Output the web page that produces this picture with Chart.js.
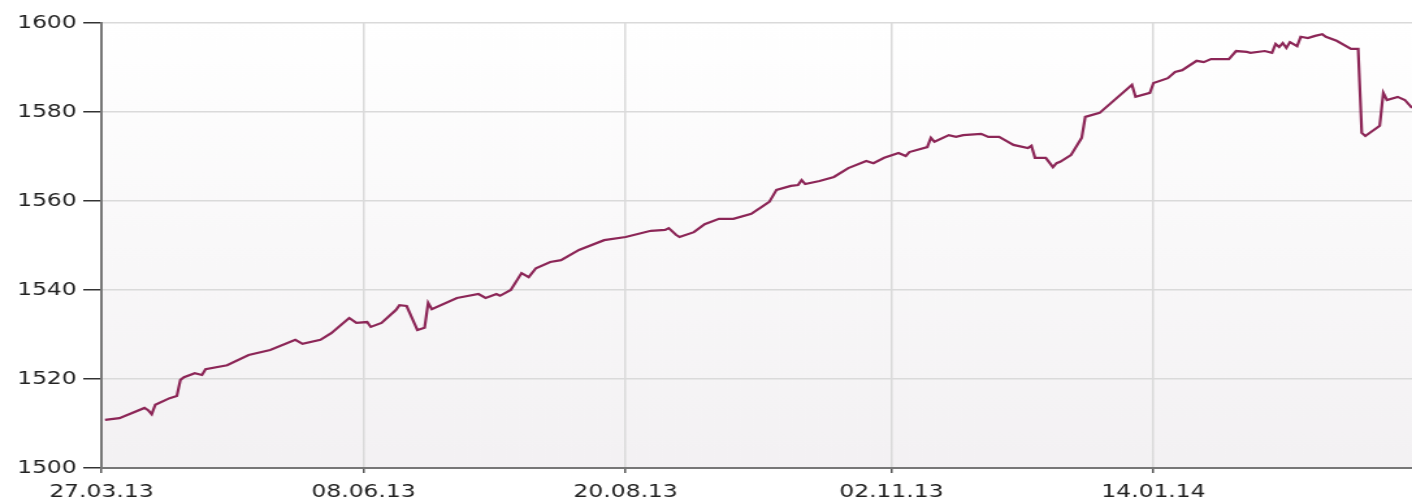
<!DOCTYPE html>
<html>
<head>
<meta charset="utf-8">
<script src="https://cdn.jsdelivr.net/npm/chart.js@4/dist/chart.umd.min.js"></script>
<style>
  html, body { margin: 0; padding: 0; background: #fff; overflow: hidden; }
  /* the original picture is stretched sideways, so draw narrow and widen it */
  #wrap { width: 1086px; height: 500px; transform: scaleX(1.3002); transform-origin: 0 0; }
</style>
</head>
<body>
<div id="wrap"><canvas id="chart-price" width="1086" height="500"></canvas></div>
<script>
// days since 27.03.13
const days = [1, 5, 12, 13, 14, 15, 19, 21, 22, 23, 26, 28, 29, 35, 41, 47, 54, 56, 61, 64,
  69, 71, 74, 75, 78, 82, 83, 85, 88, 90, 91, 92, 99, 105, 107, 110, 111, 114, 117, 119,
  121, 125, 128, 133, 140, 146, 153, 157, 158, 160, 161, 165, 168, 172, 176, 181, 186, 188, 192, 194,
  195, 196, 200, 204, 208, 213, 215, 218, 222, 224, 225, 230, 231, 232, 236, 238, 240, 245, 247, 250,
  252, 254, 258, 259, 260, 263, 265, 266, 267, 270, 273, 274, 278, 287, 288, 292, 293, 297, 299, 301,
  305, 307, 309, 314, 316, 319, 320, 324, 326, 327, 328, 329, 330, 331, 333, 334, 336, 338, 340, 341,
  344, 348, 350, 351, 352, 356, 357, 358, 361, 363, 365];
const values = [1510.8, 1511.2, 1513.5, 1513.0, 1512.1, 1514.2, 1515.7, 1516.2, 1519.8, 1520.4, 1521.3, 1520.9, 1522.2, 1523.1, 1525.4, 1526.5, 1528.8, 1527.9, 1528.8, 1530.3,
  1533.7, 1532.6, 1532.8, 1531.7, 1532.6, 1535.5, 1536.6, 1536.4, 1531.0, 1531.5, 1537.1, 1535.7, 1538.2, 1539.1, 1538.2, 1539.1, 1538.7, 1540.0, 1543.8, 1542.9,
  1544.9, 1546.3, 1546.7, 1549.0, 1551.2, 1551.9, 1553.3, 1553.5, 1553.9, 1552.4, 1551.9, 1553.0, 1554.8, 1556.0, 1556.0, 1557.1, 1559.8, 1562.5, 1563.4, 1563.6,
  1564.7, 1563.8, 1564.5, 1565.4, 1567.4, 1569.0, 1568.5, 1569.7, 1570.8, 1570.1, 1571.0, 1572.1, 1574.2, 1573.3, 1574.8, 1574.4, 1574.8, 1575.1, 1574.4, 1574.4,
  1573.5, 1572.6, 1571.9, 1572.4, 1569.7, 1569.7, 1567.6, 1568.5, 1568.8, 1570.3, 1574.2, 1578.9, 1579.8, 1586.1, 1583.4, 1584.3, 1586.5, 1587.6, 1589.0, 1589.4,
  1591.5, 1591.2, 1591.9, 1591.9, 1593.7, 1593.5, 1593.3, 1593.7, 1593.3, 1595.3, 1594.6, 1595.5, 1594.4, 1595.7, 1594.8, 1596.9, 1596.6, 1597.1, 1597.5, 1596.9,
  1596.0, 1594.2, 1594.2, 1575.3, 1574.6, 1576.9, 1584.3, 1582.7, 1583.4, 1582.7, 1580.9];

const tickLabels = ['27.03.13', '08.06.13', '20.08.13', '02.11.13', '14.01.14'];

function dayOf(label) {
  let p = label.split('.');
  let start = Date.UTC(2013, 2, 27);
  return Math.round((Date.UTC(2000 + Number(p[2]), Number(p[1]) - 1, Number(p[0])) - start) / 86400000);
}
const tickDays = tickLabels.map(dayOf);

let points = [];
for (let i in days) {
  points.push({x: days[i], y: values[i]});
}

// light gradient behind the plot
const plotBackground = {
  id: 'plotBackground',
  beforeDraw(chart) {
    let a = chart.chartArea;
    let ctx = chart.ctx;
    let g = ctx.createLinearGradient(0, a.top, 0, a.bottom);
    g.addColorStop(0, '#ffffff');
    g.addColorStop(1, '#f3f1f3');
    ctx.save();
    ctx.fillStyle = g;
    ctx.fillRect(a.left, a.top, a.right - a.left, a.bottom - a.top);
    ctx.restore();
  }
};

let ctx = document.getElementById('chart-price');
let chart = new Chart(ctx, {
  type: 'line',
  data: {
    datasets: [{
      data: points,
      borderColor: '#8c2657',
      borderWidth: 2.2,
      pointRadius: 0,
      tension: 0,
      fill: false
    }]
  },
  options: {
    responsive: false,
    animation: false,
    layout: { padding: { top: 23, right: 0, bottom: 0, left: 0 } },
    plugins: { legend: { display: false }, tooltip: { enabled: false } },
    scales: {
      x: {
        type: 'linear',
        min: 0,
        max: 365,
        afterBuildTicks: (scale) => { scale.ticks = tickDays.map(v => ({value: v})); },
        afterFit: (scale) => { scale.height = 32; },
        grid: { color: '#dadada', lineWidth: 1.5, tickColor: '#555', tickLength: 5 },
        border: { color: '#777', width: 2 },
        ticks: {
          autoSkip: false,
          maxRotation: 0,
          padding: 9,
          color: '#222',
          font: { family: 'DejaVu Sans', size: 18 },
          callback: (value, index) => tickLabels[index]
        }
      },
      y: {
        min: 1500,
        max: 1600,
        afterFit: (scale) => { scale.width = 78; },
        grid: { color: '#dadada', lineWidth: 1.5, tickColor: '#333', tickLength: 14 },
        border: { color: '#777', width: 2 },
        ticks: {
          stepSize: 20,
          padding: 5,
          color: '#222',
          font: { family: 'DejaVu Sans', size: 18 },
          callback: (value) => String(value)
        }
      }
    }
  },
  plugins: [plotBackground]
});
</script>
</body>
</html>
